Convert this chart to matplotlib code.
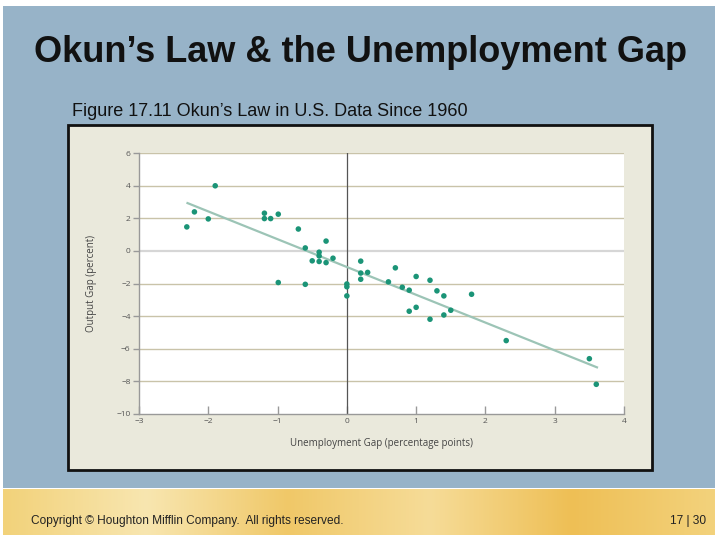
import matplotlib
matplotlib.use("Agg")
import matplotlib.pyplot as plt
import numpy as np
from matplotlib.patches import Rectangle
from matplotlib.colors import LinearSegmentedColormap

# ---- data ----
unemp_gap = [-2.31, -2.20, -2.00, -1.90, -1.19, -1.19, -1.10, -0.99, -0.70,
             -0.60, -0.30, -0.40, -0.40, -0.50, -0.40, -0.30, -0.20, -0.99,
             -0.60, 0.00, 0.00, 0.00, 0.20, 0.20, 0.30, 0.20, 0.70, 0.60,
             0.80, 0.90, 1.00, 1.20, 1.30, 1.40, 1.80, 0.90, 1.00, 1.20,
             1.40, 1.50, 2.30, 3.50, 3.60]
output_gap = [1.47, 2.39, 1.96, 3.99, 2.31, 1.98, 1.98, 2.25, 1.34,
              0.18, 0.60, -0.08, -0.31, -0.61, -0.65, -0.72, -0.45, -1.94,
              -2.05, -2.03, -2.20, -2.76, -0.63, -1.36, -1.32, -1.74, -1.04, -1.90,
              -2.23, -2.41, -1.57, -1.80, -2.45, -2.76, -2.66, -3.70, -3.46, -4.19,
              -3.93, -3.64, -5.50, -6.61, -8.18]
fit_x = [-2.30, 3.61]
fit_y = [2.93, -7.14]
x_ticks = [-3, -2, -1, 0, 1, 2, 3, 4]
y_ticks = [-10, -8, -6, -4, -2, 0, 2, 4, 6]

title = "Okun\u2019s Law & the Unemployment Gap"
subtitle = "Figure 17.11 Okun\u2019s Law in U.S. Data Since 1960"
footer = "Copyright \u00a9 Houghton Mifflin Company.  All rights reserved."
page = "17 | 30"

W, H = 720, 540
fig = plt.figure(figsize=(7.2, 5.4), dpi=100)
fig.patch.set_facecolor("white")

bg = fig.add_axes([0, 0, 1, 1])
bg.axis("off")

bg.add_patch(Rectangle((3, 6), 712, 482, facecolor="#97b3c8", edgecolor="none"))
grad = np.linspace(0, 1, 256).reshape(1, -1)
cmap = LinearSegmentedColormap.from_list(
    "gold", ["#f2d27a", "#f8e6b0", "#f0c868", "#f6dc98", "#eebf55", "#f3d27c"])
bg.imshow(grad, extent=(3, 715, 535, 489), aspect="auto", cmap=cmap, zorder=1)
bg.set_xlim(0, W)
bg.set_ylim(H, 0)

bg.add_patch(Rectangle((68, 125), 584, 345, facecolor="#eae9dc",
                       edgecolor="#111111", linewidth=2, zorder=2))

bg.text(360, 52, title, ha="center", va="center", fontsize=26,
        fontweight="bold", family="Liberation Sans", color="#111111", zorder=3)
bg.text(72, 112, subtitle, ha="left", va="center", fontsize=13,
        family="Liberation Sans", color="#111111", zorder=3)
bg.text(31, 521, footer, ha="left", va="center", fontsize=8.6,
        family="Liberation Sans", color="#222222", zorder=3)
bg.text(706, 521, page, ha="right", va="center", fontsize=8.6,
        family="Liberation Sans", color="#222222", zorder=3)

ax = fig.add_axes([139 / W, 1 - 414 / H, 485 / W, 261 / H])
ax.set_facecolor("white")
ax.set_xlim(-3, 4)
ax.set_ylim(-10, 6)

for yv in y_ticks:
    if yv == -10:
        continue
    ax.axhline(yv, color="#d6d6d6" if yv == 0 else "#c9c3a9",
               linewidth=1.6 if yv == 0 else 1.0, zorder=1)
ax.axvline(0, color="#555555", linewidth=0.9, zorder=2)

ax.plot(fit_x, fit_y, color="#9cc4b6", linewidth=1.6, zorder=3)
ax.scatter(unemp_gap, output_gap, s=16, color="#1b9477", edgecolors="none",
           zorder=4)

for side in ["top", "right"]:
    ax.spines[side].set_visible(False)
for side in ["left", "bottom"]:
    ax.spines[side].set_color("#999999")
    ax.spines[side].set_linewidth(1.0)

ax.set_xticks(x_ticks)
ax.set_yticks(y_ticks)
ax.set_xticklabels(["\u22123", "\u22122", "\u22121", "0", "1", "2", "3", "4"])
ax.set_yticklabels(["\u221210", "\u22128", "\u22126", "\u22124", "\u22122",
                    "0", "2", "4", "6"])
ax.tick_params(axis="x", direction="in", length=6, width=1, color="#999999",
               labelsize=6, labelcolor="#555555", pad=3)
ax.tick_params(axis="y", direction="out", length=4, width=1, color="#999999",
               labelsize=6, labelcolor="#555555", pad=2)
for lab in ax.get_xticklabels() + ax.get_yticklabels():
    lab.set_family("Open Sans")

ax.set_xlabel("Unemployment Gap (percentage points)", fontsize=7,
              family="Open Sans", color="#444444", labelpad=9)
ax.set_ylabel("Output Gap (percent)", fontsize=7, family="Open Sans",
              color="#444444", labelpad=14)

fig.savefig("out.png", dpi=100, facecolor=fig.get_facecolor())
